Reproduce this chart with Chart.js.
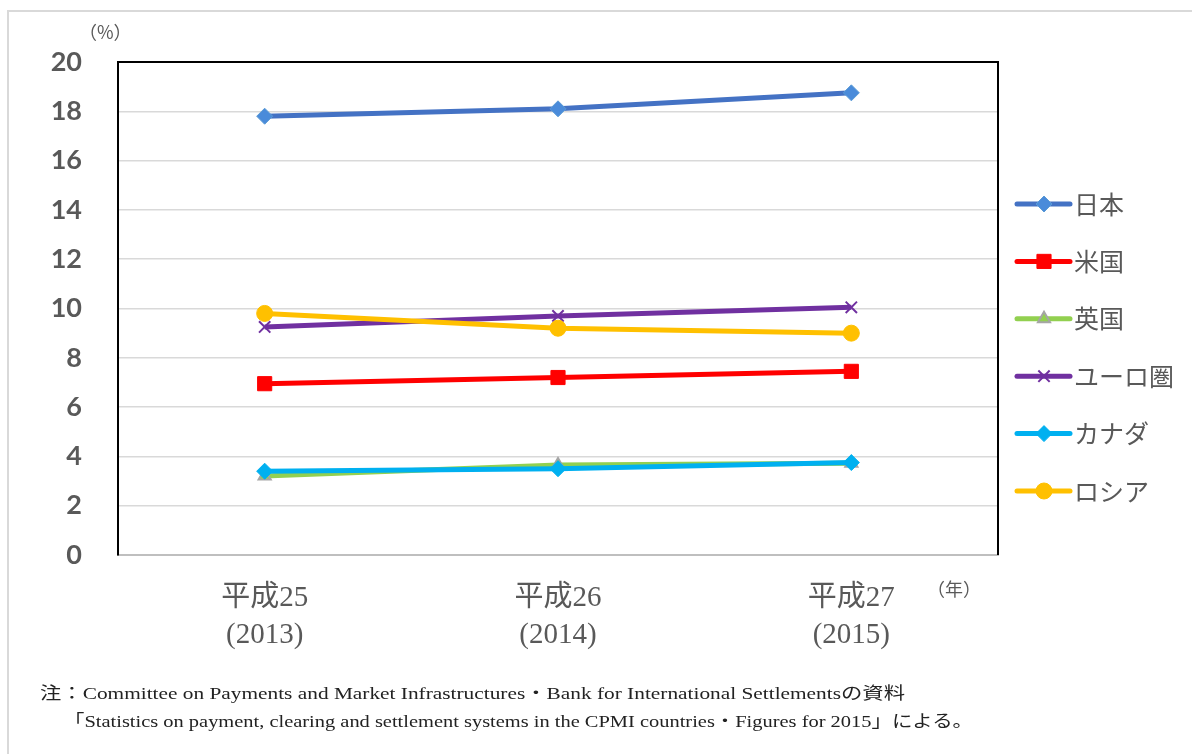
<!DOCTYPE html>
<html>
<head>
<meta charset="utf-8">
<script src="https://cdn.jsdelivr.net/npm/chart.js@4"></script>
<style>
  body { margin: 0; background: #fff; }
  #wrap { position: relative; width: 1192px; height: 754px; overflow: hidden; }
  #frame { position: absolute; left: 7px; top: 10px; width: 1300px; height: 900px; border: 2px solid #d9d9d9; }
  canvas { position: absolute; left: 0; top: 0; }
  .unit { position: absolute; font-family: "Noto Sans CJK JP", sans-serif; font-size: 18px; color: #595959; }
  .note { position: absolute; font-family: "Liberation Serif", "Noto Sans CJK JP", serif; font-size: 17px; color: #222; white-space: nowrap; transform-origin: 0 50%; }
</style>
</head>
<body>
<div id="wrap">
  <div id="frame"></div>
  <canvas id="line-chart" width="1192" height="754"></canvas>
  <div class="unit" style="left:79px; top:18px;">（%）</div>
  <div class="unit" style="left:927px; top:575px;">（年）</div>
  <div class="note" data-w="865" style="left:40px; top:679px;">注：Committee on Payments and Market Infrastructures・Bank for International Settlementsの資料</div>
  <div class="note" data-w="909" style="left:64px; top:707px;">「Statistics on payment, clearing and settlement systems in the CPMI countries・Figures for 2015」による。</div>
</div>
<script>
const lineChart = document.getElementById("line-chart");

// data
const years = [["平成25", "(2013)"], ["平成26", "(2014)"], ["平成27", "(2015)"]];
const names = ["日本", "米国", "英国", "ユーロ圏", "カナダ", "ロシア"];
const japan = [17.8, 18.1, 18.75];
const usa = [6.95, 7.2, 7.45];
const uk = [3.2, 3.65, 3.72];
const euro = [9.25, 9.7, 10.05];
const canada = [3.4, 3.5, 3.75];
const russia = [9.8, 9.2, 9.0];
const yMin = 0;
const yMax = 20;
const yStep = 2;

const colors = ["#4472C4", "#FF0000", "#92D050", "#7030A0", "#00B0F0", "#FFC000"];
const markerFill = ["#4A8BDA", "#FF0000", "#92D050", "#7030A0", "#00B0F0", "#FFC000"];
const markerBorder = ["#5B9BD5", "#FF0000", "#A5A5A5", "#7030A0", "#00B0F0", "#FFC000"];
const styles = ["rectRot", "rect", "triangle", "crossRot", "rectRot", "circle"];
const radii = [8, 10, 7, 8, 8, 8];
const values = [japan, usa, uk, euro, canada, russia];

const datasets = names.map((name, i) => ({
  label: name,
  data: values[i],
  borderColor: colors[i],
  borderWidth: 5,
  pointStyle: styles[i],
  pointRadius: radii[i],
  pointHoverRadius: radii[i],
  pointBackgroundColor: markerFill[i],
  pointBorderColor: markerBorder[i],
  pointBorderWidth: i == 3 || i == 2 ? 2 : 1,
  tension: 0,
  fill: false,
  // later series on top, like the original
  order: names.length - i,
}));

// black frame on top and right of the plot
const plotFrame = {
  id: "plotFrame",
  afterDatasetsDraw(chart) {
    const a = chart.chartArea;
    const ctx = chart.ctx;
    ctx.save();
    ctx.strokeStyle = "#000";
    ctx.lineWidth = 2;
    ctx.beginPath();
    ctx.moveTo(a.left, a.top);
    ctx.lineTo(a.right, a.top);
    ctx.lineTo(a.right, a.bottom);
    ctx.stroke();
    ctx.restore();
  },
};

// legend with line + marker, drawn to the right of the plot
const sideLegend = {
  id: "sideLegend",
  afterDraw(chart) {
    const a = chart.chartArea;
    const ctx = chart.ctx;
    ctx.save();
    names.forEach((name, i) => {
      const y = a.top + 142 + i * 57.4;
      const x0 = a.left + a.width + 19;
      ctx.strokeStyle = colors[i];
      ctx.lineWidth = 5;
      ctx.lineCap = "round";
      ctx.beginPath();
      ctx.moveTo(x0, y);
      ctx.lineTo(x0 + 53, y);
      ctx.stroke();
      ctx.fillStyle = markerFill[i];
      ctx.strokeStyle = markerBorder[i];
      ctx.lineWidth = i == 3 || i == 2 ? 2 : 1;
      ctx.lineCap = "butt";
      Chart.helpers.drawPoint(ctx, { pointStyle: styles[i], radius: radii[i], rotation: 0, borderWidth: ctx.lineWidth }, x0 + 27, y);
      ctx.fillStyle = "#595959";
      ctx.font = '25px "Noto Sans CJK JP"';
      ctx.textBaseline = "middle";
      ctx.textAlign = "left";
      ctx.fillText(name, x0 + 57, y);
    });
    ctx.restore();
  },
};

const shareChart = new Chart(lineChart, {
  type: "line",
  data: {
    labels: years,
    datasets: datasets,
  },
  options: {
    responsive: false,
    animation: false,
    layout: {
      padding: { left: 0, top: 62, right: 194, bottom: 99 },
    },
    scales: {
      x: {
        offset: true,
        grid: { display: false, drawTicks: false },
        border: { display: true, color: "#BFBFBF", width: 2 },
        ticks: {
          color: "#595959",
          padding: 25,
          maxRotation: 0,
          font: { family: '"Liberation Serif", "Noto Sans CJK JP", serif', size: 29, lineHeight: 1.27 },
        },
        afterFit(scale) {
          scale.height = 100;
        },
      },
      y: {
        min: yMin,
        max: yMax,
        grid: { color: "#D9D9D9", lineWidth: 1.5, drawTicks: false },
        border: { display: true, color: "#000", width: 2 },
        ticks: {
          stepSize: yStep,
          color: "#595959",
          padding: 36,
          font: { family: "Lato", size: 27, weight: "bold" },
        },
        afterFit(scale) {
          scale.width = 118;
        },
      },
    },
    plugins: {
      legend: { display: false },
      tooltip: { enabled: false },
    },
  },
  plugins: [plotFrame, sideLegend],
});

// stretch the footnote lines to the widths in the original
document.querySelectorAll(".note").forEach((el) => {
  const w = el.getBoundingClientRect().width;
  el.style.transform = "scaleX(" + (Number(el.dataset.w) / w) + ")";
});
</script>
</body>
</html>
